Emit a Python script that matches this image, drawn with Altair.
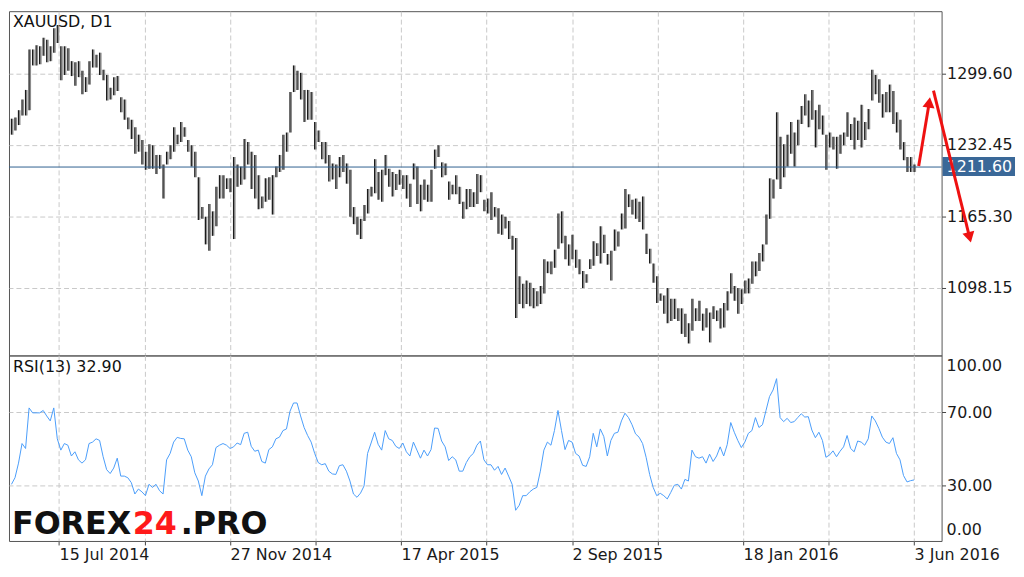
import altair as alt
import pandas as pd

# ---- data (one bar per two trading days) ----
HIGH = [
    1257, 1258, 1265, 1275, 1284, 1322, 1322, 1326, 1325, 1333,
    1331, 1325, 1342, 1345, 1325, 1325, 1323, 1311, 1310, 1311,
    1302, 1296, 1311, 1322, 1317, 1319, 1303, 1298, 1286, 1296,
    1297, 1277, 1275, 1258, 1256, 1249, 1242, 1237, 1226, 1233,
    1232, 1223, 1223, 1214, 1226, 1232, 1249, 1242, 1254, 1249,
    1237, 1232, 1226, 1202, 1174, 1165, 1177, 1170, 1193, 1204,
    1204, 1201, 1201, 1221, 1214, 1212, 1238, 1235, 1226, 1223,
    1204, 1184, 1201, 1202, 1204, 1212, 1223, 1242, 1244, 1282,
    1307, 1302, 1300, 1284, 1284, 1282, 1254, 1246, 1235, 1235,
    1223, 1215, 1214, 1221, 1223, 1215, 1209, 1174, 1165, 1163,
    1176, 1191, 1193, 1219, 1207, 1209, 1223, 1210, 1207, 1205,
    1209, 1204, 1204, 1196, 1215, 1212, 1195, 1200, 1195, 1209,
    1228, 1232, 1216, 1215, 1198, 1195, 1204, 1193, 1179, 1191,
    1191, 1188, 1205, 1204, 1181, 1182, 1188, 1174, 1173, 1167,
    1165, 1161, 1147, 1145, 1109, 1102, 1105, 1103, 1098, 1095,
    1100, 1125, 1123, 1123, 1134, 1168, 1170, 1147, 1139, 1148,
    1134, 1125, 1114, 1111, 1125, 1142, 1140, 1156, 1148, 1130,
    1133, 1153, 1151, 1168, 1191, 1186, 1181, 1182, 1179, 1184,
    1149, 1135, 1121, 1109, 1093, 1091, 1098, 1088, 1088, 1079,
    1079, 1074, 1065, 1088, 1079, 1086, 1074, 1079, 1075, 1081,
    1077, 1079, 1084, 1095, 1112, 1100, 1098, 1097, 1105, 1107,
    1123, 1123, 1131, 1139, 1167, 1201, 1200, 1263, 1240, 1233,
    1242, 1254, 1244, 1256, 1269, 1280, 1274, 1284, 1265, 1270,
    1260, 1242, 1244, 1240, 1240, 1242, 1244, 1263, 1252, 1258,
    1255, 1270, 1254, 1266, 1303, 1298, 1294, 1280, 1282, 1289,
    1283, 1263, 1256, 1235, 1221, 1221, 1214,
]
LOW = [
    1242, 1246, 1251, 1260, 1260, 1265, 1307, 1307, 1308, 1316,
    1310, 1311, 1319, 1328, 1293, 1298, 1302, 1297, 1288, 1296,
    1280, 1282, 1289, 1305, 1305, 1298, 1293, 1274, 1275, 1279,
    1283, 1263, 1256, 1247, 1238, 1224, 1226, 1214, 1209, 1210,
    1210, 1205, 1210, 1182, 1214, 1219, 1226, 1233, 1235, 1240,
    1226, 1212, 1202, 1162, 1163, 1139, 1133, 1147, 1156, 1182,
    1182, 1191, 1188, 1144, 1193, 1195, 1200, 1214, 1191, 1182,
    1172, 1173, 1179, 1181, 1167, 1202, 1207, 1209, 1226, 1244,
    1282, 1284, 1275, 1254, 1256, 1256, 1228, 1235, 1219, 1215,
    1198, 1200, 1191, 1202, 1207, 1196, 1165, 1158, 1148, 1144,
    1161, 1168, 1184, 1187, 1181, 1179, 1204, 1193, 1184, 1190,
    1195, 1191, 1182, 1174, 1200, 1177, 1170, 1181, 1179, 1179,
    1210, 1221, 1202, 1204, 1181, 1186, 1186, 1177, 1163, 1172,
    1174, 1174, 1177, 1188, 1170, 1168, 1162, 1165, 1149, 1148,
    1154, 1144, 1134, 1070, 1083, 1079, 1083, 1081, 1079, 1081,
    1083, 1093, 1112, 1111, 1117, 1135, 1140, 1125, 1119, 1125,
    1117, 1111, 1098, 1103, 1116, 1119, 1128, 1121, 1131, 1120,
    1105, 1133, 1137, 1153, 1154, 1174, 1167, 1163, 1160, 1153,
    1130, 1121, 1103, 1084, 1086, 1074, 1065, 1067, 1069, 1067,
    1055, 1052, 1046, 1058, 1067, 1067, 1058, 1061, 1047, 1069,
    1067, 1060, 1061, 1077, 1093, 1086, 1074, 1083, 1093, 1093,
    1102, 1109, 1114, 1123, 1139, 1163, 1182, 1200, 1191, 1202,
    1212, 1224, 1212, 1232, 1252, 1260, 1249, 1256, 1230, 1247,
    1242, 1209, 1230, 1228, 1210, 1224, 1232, 1240, 1237, 1228,
    1237, 1230, 1237, 1247, 1274, 1280, 1272, 1258, 1263, 1263,
    1252, 1244, 1228, 1218, 1207, 1207, 1207,
]
RSI = [
    30.5, 34.1, 42.1, 52.8, 50.1, 72.3, 69.6, 69.6, 69.6, 70.9,
    67.9, 65.2, 72.3, 55.4, 49.2, 52.8, 51.9, 46.0, 48.3, 43.9,
    42.1, 43.9, 52.8, 53.6, 55.4, 54.5, 45.6, 38.5, 36.4, 39.4,
    44.8, 35.0, 35.0, 34.1, 31.4, 25.2, 27.9, 26.4, 24.3, 30.5,
    28.8, 30.5, 27.0, 25.2, 43.9, 47.4, 53.6, 56.2, 55.6, 55.4,
    49.2, 45.6, 36.8, 32.3, 24.3, 35.0, 38.9, 41.2, 50.6, 51.9,
    52.8, 51.9, 50.1, 51.0, 53.1, 52.2, 58.4, 59.0, 51.3, 48.6,
    49.2, 43.0, 42.1, 49.5, 51.0, 55.4, 56.3, 59.9, 60.8, 70.5,
    75.0, 75.0, 67.9, 61.6, 57.2, 53.6, 47.4, 42.4, 41.2, 41.8,
    37.7, 36.2, 35.9, 40.7, 41.2, 37.7, 32.3, 25.2, 23.4, 25.7,
    29.6, 47.4, 53.1, 59.0, 52.4, 49.2, 59.9, 55.4, 54.5, 51.3,
    50.1, 53.1, 48.3, 46.0, 53.6, 49.2, 44.8, 49.2, 46.0, 49.5,
    61.3, 61.1, 54.2, 51.0, 43.5, 45.6, 43.9, 37.7, 37.7, 42.4,
    45.6, 47.4, 51.9, 54.2, 43.9, 41.2, 41.2, 38.2, 40.3, 35.9,
    39.4, 35.0, 30.5, 16.3, 19.0, 24.3, 24.3, 26.4, 27.9, 28.8,
    37.7, 49.2, 53.6, 51.9, 59.9, 70.9, 59.9, 49.5, 54.5, 53.6,
    47.4, 46.0, 40.9, 40.3, 45.6, 58.4, 51.0, 60.8, 56.6, 46.0,
    54.5, 58.4, 59.0, 65.2, 69.4, 67.0, 63.1, 58.1, 56.3, 52.8,
    45.3, 35.9, 28.8, 24.3, 25.6, 24.3, 22.5, 26.1, 30.0, 30.5,
    27.9, 33.2, 32.3, 49.2, 45.6, 44.8, 45.6, 42.1, 47.0, 43.0,
    46.0, 51.0, 46.0, 52.2, 64.3, 59.0, 54.5, 50.6, 53.6, 58.4,
    59.9, 67.0, 61.6, 63.1, 70.9, 78.5, 82.1, 88.3, 67.0, 64.8,
    66.6, 64.3, 64.8, 67.0, 69.1, 67.3, 67.5, 60.2, 56.0, 59.0,
    54.5, 45.3, 46.5, 48.8, 45.6, 48.6, 51.0, 57.2, 50.1, 48.3,
    54.2, 53.6, 51.9, 55.4, 67.9, 65.2, 61.1, 56.3, 53.6, 52.8,
    56.0, 47.4, 43.9, 35.3, 31.8, 32.5, 32.9,
]

SYMBOL = "XAUUSD, D1"
CUR_PRICE = 1211.60
RSI_TEXT = "RSI(13) 32.90"

PRICE_TICKS = [1098.15, 1165.30, 1232.45, 1299.60]
RSI_TICKS = [30, 70]
RSI_EDGE_TOP = ["100.00"]
RSI_EDGE_BOTTOM = ["0.00"]

X_TICKS = [13.5, 37.75, 62, 86.25, 110.5, 134.75, 159, 183.25, 207.5, 231.75, 256]
X_LABELS = ["15 Jul 2014", "", "27 Nov 2014", "", "17 Apr 2015", "",
            "2 Sep 2015", "", "18 Jan 2016", "", "3 Jun 2016"]

# forecast arrows (bar index, price)
ARROW_GROUP = ["up", "up", "down", "down"]
ARROW_BAR = [257.3, 260.3, 261.5, 271.75]
ARROW_PRICE = [1212.6, 1272.2, 1283.4, 1145.6]
HEAD_BAR = [260.3, 271.75]
HEAD_PRICE = [1272.2, 1145.6]
HEAD_ANGLE = [8, 166]

WATERMARK = ["FOREX", "24", ".PRO"]

FONT = "DejaVu Sans"
GRID = "#c8c8c8"

bars = pd.DataFrame({"bar": list(range(len(HIGH))), "high": HIGH, "low": LOW, "rsi": RSI})
cur = pd.DataFrame({"p": [CUR_PRICE], "lo": [CUR_PRICE - 8.5], "hi": [CUR_PRICE + 9.5],
                    "t": [f"{CUR_PRICE:.2f}"]})
arrows = pd.DataFrame({"g": ARROW_GROUP, "bar": ARROW_BAR, "price": ARROW_PRICE})
heads = pd.DataFrame({"bar": HEAD_BAR, "price": HEAD_PRICE, "angle": HEAD_ANGLE})

label_expr = " : ".join(
    f"datum.value == {v} ? '{l}'" for v, l in zip(X_TICKS, X_LABELS) if l
) + " : ''"

xs = alt.Scale(domain=[-0.7, 263.8], nice=False, zero=False)
ys = alt.Scale(domain=[1034.74, 1357.9], nice=False, zero=False)
rs = alt.Scale(domain=[-0.5, 101], nice=False, zero=False)

# ---------------- price panel ----------------
price_shade = alt.Chart(bars).mark_rule(color="#8c8c8c", strokeWidth=1.4, xOffset=1.3).encode(
    x=alt.X("bar:Q", scale=xs, title=None,
            axis=alt.Axis(values=X_TICKS, labels=False, ticks=False, domain=False,
                          grid=True, title=None)),
    y=alt.Y("low:Q", scale=ys, title=None,
            axis=alt.Axis(orient="right", values=PRICE_TICKS, format=".2f", grid=True,
                          domain=False, tickSize=4, labelPadding=1, title=None)),
    y2="high:Q",
)
price_bars = alt.Chart(bars).mark_rule(color="#1c1c1c", strokeWidth=1.3).encode(
    x=alt.X("bar:Q", title=None),
    y=alt.Y("low:Q", title=None),
    y2="high:Q",
)

cur_line = alt.Chart(cur).mark_rule(color="#2f5f8f", strokeWidth=1).encode(
    y=alt.Y("p:Q", title=None)
)
cur_box = alt.Chart(cur).mark_rect(color="#3a6898").encode(
    x=alt.value(941), x2=alt.value(1014),
    y=alt.Y("lo:Q", title=None), y2="hi:Q",
)
cur_text = alt.Chart(cur).mark_text(
    align="left", baseline="middle", color="white", font=FONT, fontSize=16
).encode(x=alt.value(945), y=alt.Y("p:Q", title=None), text="t:N")

arrow_lines = alt.Chart(arrows).mark_line(color="#ee1111", strokeWidth=3).encode(
    x=alt.X("bar:Q", title=None), y=alt.Y("price:Q", title=None), detail="g:N"
)
arrow_heads = alt.Chart(heads).mark_point(
    shape="triangle-up", filled=True, color="#ee1111", size=150, opacity=1
).encode(
    x=alt.X("bar:Q", title=None), y=alt.Y("price:Q", title=None),
    angle=alt.Angle("angle:Q", scale=None),
)

title_text = alt.Chart(pd.DataFrame({"t": [SYMBOL]})).mark_text(
    align="left", baseline="alphabetic", font=FONT, fontSize=16, color="#111111"
).encode(x=alt.value(4), y=alt.value(16), text="t:N")

main = alt.layer(
    price_shade, price_bars, cur_line, cur_box, cur_text, arrow_lines, arrow_heads,
    title_text
).properties(width=940, height=347)

# ---------------- RSI panel ----------------
rsi_line = alt.Chart(bars).mark_line(color="#4a9dfa", strokeWidth=1).encode(
    x=alt.X("bar:Q", scale=xs, title=None,
            axis=alt.Axis(values=X_TICKS, labelExpr=label_expr, grid=True, ticks=True,
                          tickSize=4, domain=False, labelAlign="left",
                          labelBaseline="top", labelPadding=2, labelOverlap=False,
                          labelBound=False, labelFlush=False, title=None)),
    y=alt.Y("rsi:Q", scale=rs, title=None,
            axis=alt.Axis(orient="right", values=RSI_TICKS, format=".2f", grid=True,
                          domain=False, tickSize=4, labelPadding=1, title=None)),
)

edge_top = alt.Chart(pd.DataFrame({"v": [100], "t": RSI_EDGE_TOP})).mark_text(
    align="left", baseline="top", font=FONT, fontSize=16, color="#1a1a1a", dy=1
).encode(x=alt.value(945), y=alt.Y("v:Q", title=None), text="t:N")
edge_bottom = alt.Chart(pd.DataFrame({"v": [0], "t": RSI_EDGE_BOTTOM})).mark_text(
    align="left", baseline="bottom", font=FONT, fontSize=16, color="#1a1a1a", dy=-2
).encode(x=alt.value(945), y=alt.Y("v:Q", title=None), text="t:N")

rsi_text = alt.Chart(pd.DataFrame({"t": [RSI_TEXT]})).mark_text(
    align="left", baseline="alphabetic", font=FONT, fontSize=16, color="#111111"
).encode(x=alt.value(4), y=alt.value(17), text="t:N")

wm1 = alt.Chart(pd.DataFrame({"t": [WATERMARK[0]]})).mark_text(
    align="left", baseline="alphabetic", font=FONT, fontSize=32, fontWeight="bold",
    color="#111111"
).encode(x=alt.value(3), y=alt.value(180), text="t:N")
wm2 = alt.Chart(pd.DataFrame({"t": [WATERMARK[1]]})).mark_text(
    align="center", baseline="alphabetic", font=FONT, fontSize=32, fontWeight="bold",
    color="#ff1a1a"
).encode(x=alt.value(147), y=alt.value(180), text="t:N")
wm3 = alt.Chart(pd.DataFrame({"t": [WATERMARK[2]]})).mark_text(
    align="left", baseline="alphabetic", font=FONT, fontSize=32, fontWeight="bold",
    color="#111111"
).encode(x=alt.value(173), y=alt.value(180), text="t:N")

rsi = alt.layer(
    rsi_line, edge_top, edge_bottom, rsi_text, wm1, wm2, wm3
).properties(width=940, height=187)

chart = alt.vconcat(main, rsi, spacing=0, bounds="flush").properties(
    padding=0, background="white"
).configure_view(
    stroke="#555555", strokeWidth=1
).configure_axis(
    labelFont=FONT, labelFontSize=16, labelColor="#1a1a1a", tickColor="#444444",
    gridColor=GRID, gridDash=[5, 3], gridWidth=1
)

chart.save("out.html", embed_options={"renderer": "svg", "actions": False})
